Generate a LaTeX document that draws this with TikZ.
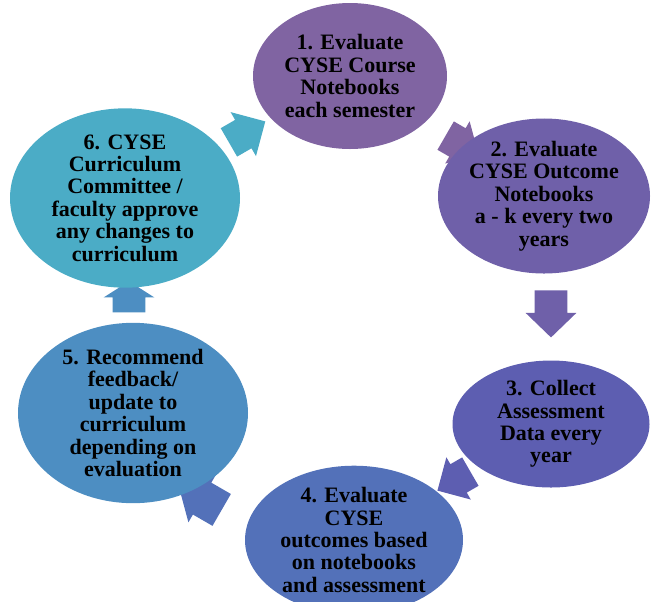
\documentclass[tikz,border=0pt]{standalone}
\usepackage{fontspec}
\setmainfont{Liberation Serif}
\usetikzlibrary{shapes.geometric,shapes.arrows}
\definecolor{violet1}{HTML}{8064A2}
\definecolor{violet2}{HTML}{6F60A9}
\definecolor{indigo3}{HTML}{5D5EB1}
\definecolor{bleu4}{HTML}{5371B9}
\definecolor{bleu5}{HTML}{4D8EC2}
\definecolor{turq6}{HTML}{4BACC6}
\begin{document}
\begin{tikzpicture}[x=0.5pt,y=-0.5pt]
            \tikzstyle{etape}=[ellipse,inner sep=0pt,align=center,text=black,
              font=\bfseries\fontsize{11}{11.2}\selectfont]
            \tikzstyle{fleche}=[single arrow,inner xsep=0pt,inner ysep=8pt,
              single arrow head extend=4.5pt,single arrow tip angle=90]
            \useasboundingbox (0,0) rectangle (658,601);
            \clip (0,0) rectangle (658,601);
            % fleches (sous les bulles)
            \node[fleche,fill=violet1,rotate=-30,minimum height=19pt,single arrow head extend=4pt] (f12) at (455,141) {};
            \node[fleche,fill=violet2,rotate=-90,minimum height=23.5pt,single arrow tip angle=92] (f23) at (551,306) {};
            \node[fleche,fill=indigo3,rotate=-150,minimum height=19pt,single arrow head extend=4pt] (f34) at (461,477) {};
            \node[fleche,fill=bleu4,rotate=150,minimum height=25pt,inner ysep=9pt] (f45) at (208,502) {};
            \node[fleche,fill=bleu5,rotate=90,minimum height=15.5pt,single arrow tip angle=115] (f56) at (129,302) {};
            \node[fleche,fill=turq6,rotate=30,minimum height=21pt] (f61) at (240,136) {};
            % bulles
            \node[etape,fill=violet1,minimum width=97pt,minimum height=73pt] (e1) at (350,76)
              {1. Evaluate\\CYSE Course\\Notebooks\\each semester};
            \node[etape,fill=violet2,minimum width=106pt,minimum height=71pt] (e2) at (544,196)
              {2. Evaluate\\CYSE Outcome\\Notebooks\\a - k every two\\years};
            \node[etape,fill=indigo3,minimum width=98.5pt,minimum height=63.5pt] (e3) at (551,424)
              {3. Collect\\Assessment\\Data every\\year};
            \node[etape,fill=bleu4,minimum width=109pt,minimum height=73pt] (e4) at (354,540)
              {4. Evaluate\\CYSE\\outcomes based\\on notebooks\\and assessment};
            \node[etape,fill=bleu5,minimum width=115pt,minimum height=80pt] (e5) at (133,413)
              {5. Recommend\\feedback/\\update to\\curriculum\\depending on\\evaluation};
            \node[etape,fill=turq6,minimum width=115pt,minimum height=75pt] (e6) at (125,198)
              {6. CYSE\\Curriculum\\Committee /\\faculty approve\\any changes to\\curriculum};
\end{tikzpicture}
\end{document}
